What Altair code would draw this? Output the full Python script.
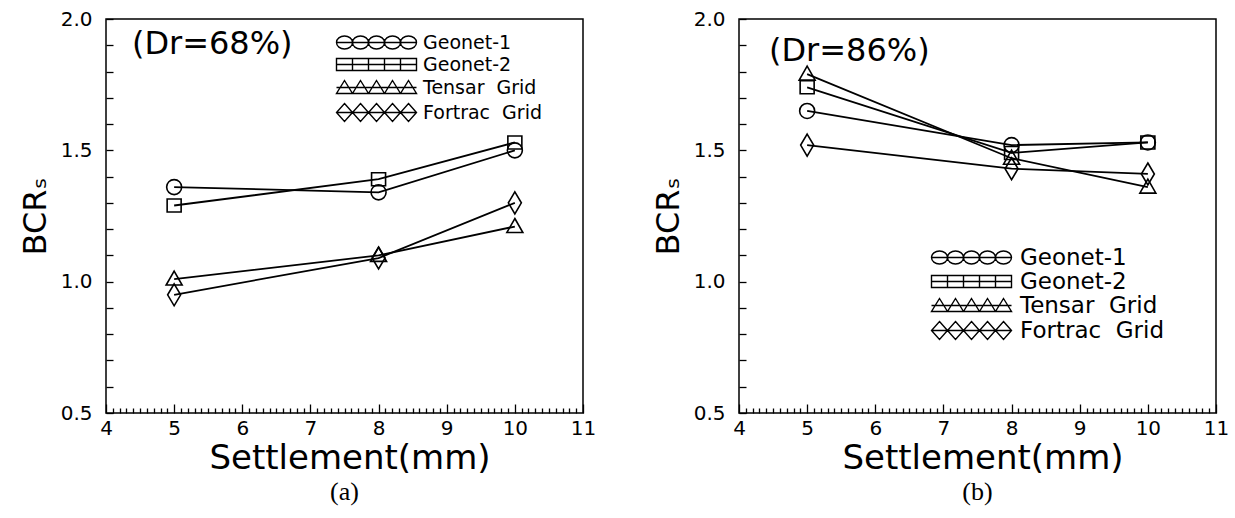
import altair as alt
import pandas as pd

# ---------------- data ----------------
settlement = [5, 8, 10]
series_names = ["Geonet-1", "Geonet-2", "Tensar\u00a0 Grid", "Fortrac\u00a0 Grid"]

# (a) Dr = 68%
geonet1_68 = [1.36, 1.34, 1.50]
geonet2_68 = [1.29, 1.39, 1.53]
tensar_68 = [1.01, 1.10, 1.21]
fortrac_68 = [0.95, 1.09, 1.30]

# (b) Dr = 86%
geonet1_86 = [1.65, 1.52, 1.53]
geonet2_86 = [1.74, 1.49, 1.53]
tensar_86 = [1.79, 1.47, 1.36]
fortrac_86 = [1.52, 1.43, 1.41]

x_labels = [4, 5, 6, 7, 8, 9, 10, 11]
y_labels = [0.5, 1.0, 1.5, 2.0]
x_minor = [round(4 + i * 0.1, 1) for i in range(71)]
y_minor = [round(0.5 + i * 0.1, 1) for i in range(16)]

annot_a = {"x": [4.38], "y": [1.905], "text": ["(Dr=68%)"]}
annot_b = {"x": [4.44], "y": [1.878], "text": ["(Dr=86%)"]}


def make_df(values):
    rows = []
    for name, vals in zip(series_names, values):
        for s, v in zip(settlement, vals):
            rows.append({"settlement": s, "bcr": v, "series": name})
    return pd.DataFrame(rows)


df_a = make_df([geonet1_68, geonet2_68, tensar_68, fortrac_68])
df_b = make_df([geonet1_86, geonet2_86, tensar_86, fortrac_86])

# ---------------- marker shapes (pixel units with size=4) ----------------
marker_paths = [
    "M-7.5,0A7.5,7.5 0 1,0 7.5,0A7.5,7.5 0 1,0 -7.5,0Z",
    "M-7,-6.5L7,-6.5L7,6.5L-7,6.5Z",
    "M0,-8L8,6L-8,6Z",
    "M0,-11L6.5,0L0,11L-6.5,0Z",
]


def chain(kind):
    parts = []
    for c in [-32, -16, 0, 16, 32]:
        if kind == "circle":
            parts.append(f"M{c-8},0A8,6.5 0 1,0 {c+8},0A8,6.5 0 1,0 {c-8},0Z")
        elif kind == "square":
            parts.append(f"M{c-8},-6L{c+8},-6L{c+8},6L{c-8},6Z")
        elif kind == "triangle":
            parts.append(f"M{c},-7L{c+8},6L{c-8},6Z")
        else:
            parts.append(f"M{c},-9L{c+8},0L{c},9L{c-8},0Z")
    parts.append("M-40,0L40,0")
    return "".join(parts)


chain_paths = [chain("circle"), chain("square"), chain("triangle"), chain("diamond")]

W, H = 477, 394
FONT = "DejaVu Sans"


def panel(df, annot, caption, lx, ly, lfont, lrow):
    xs = alt.Scale(domain=[4, 11], nice=False, zero=False)
    ys = alt.Scale(domain=[0.5, 2.0], nice=False, zero=False)
    base = alt.Chart(df)

    lines = base.mark_line(color="black", strokeWidth=1.8).encode(
        x=alt.X("settlement:Q", scale=xs,
                axis=alt.Axis(orient="bottom", values=x_labels, ticks=False, domain=False,
                              grid=False, labelFont=FONT, labelFontSize=20, labelColor="black",
                              labelPadding=5, labelFlush=False, labelOverlap=False,
                              title="Settlement(mm)", titleFont=FONT, titleFontSize=34,
                              titleFontWeight="normal", titleColor="black", titlePadding=3,
                              titleX=W / 2 + 5)),
        y=alt.Y("bcr:Q", scale=ys,
                axis=alt.Axis(orient="left", values=y_labels, format=".1f", ticks=False,
                              domain=False, grid=False, labelFont=FONT, labelFontSize=20,
                              labelColor="black", labelPadding=14, labelFlush=False,
                              labelOverlap=False, title="BCR\u209b", titleFont=FONT,
                              titleFontSize=32, titleFontWeight="normal", titleColor="black",
                              titlePadding=8)),
        detail="series:N",
    )

    points = base.mark_point(filled=False, color="black", strokeWidth=1.6, size=4, opacity=1).encode(
        x=alt.X("settlement:Q", scale=xs,
                axis=alt.Axis(orient="top", offset=-H, values=x_minor,
                              tickSize={"condition": {"test": "abs(datum.value - round(datum.value)) < 0.001",
                                                      "value": 9}, "value": 5},
                              tickColor="black", tickWidth=1.3, labels=False, domain=False,
                              grid=False, title=None)),
        y=alt.Y("bcr:Q", scale=ys,
                axis=alt.Axis(orient="right", offset=-W, values=y_minor, tickSize=7,
                              tickColor="black", tickWidth=1.3, labels=False, domain=False,
                              grid=False, title=None)),
        shape=alt.Shape("series:N", scale=alt.Scale(domain=series_names, range=marker_paths),
                        legend=None),
    )

    legend_layer = base.mark_point(filled=False, color="black", size=4, strokeWidth=1.4,
                                   opacity=1).encode(
        x=alt.X("settlement:Q", scale=xs, axis=None),
        y=alt.Y("bcr:Q", scale=ys, axis=None),
        shape=alt.Shape("series:N", scale=alt.Scale(domain=series_names, range=chain_paths),
                        legend=alt.Legend(title=None, orient="none", legendX=lx, legendY=ly,
                                          symbolSize=4, symbolStrokeWidth=1.4,
                                          symbolStrokeColor="black", symbolOpacity=1,
                                          symbolFillColor="transparent",
                                          labelFont=FONT, labelFontSize=lfont,
                                          labelColor="black", labelOffset=37,
                                          rowPadding=lrow, padding=0)),
    ).transform_filter("false")

    text = alt.Chart(pd.DataFrame(annot)).mark_text(
        align="left", baseline="middle", font=FONT, fontSize=32, color="black"
    ).encode(
        x=alt.X("x:Q", scale=xs, axis=None),
        y=alt.Y("y:Q", scale=ys, axis=None),
        text="text:N",
    )

    return alt.layer(lines, points, legend_layer, text).resolve_axis(
        x="independent", y="independent"
    ).resolve_scale(shape="independent").properties(
        width=W, height=H,
        title=alt.TitleParams(caption, orient="bottom", font="Liberation Serif", fontSize=26,
                              fontWeight="normal", color="black", offset=4),
    )


pa = panel(df_a, annot_a, "(a)", 261, 14, 19, 2)
pb = panel(df_b, annot_b, "(b)", 221, 227, 23, 0)

chart = alt.hconcat(pa, pb, spacing=54).configure_view(
    stroke="black", strokeWidth=1.5
).properties(
    padding={"left": 18, "top": 8, "right": 0, "bottom": 0},
    background="white",
)

chart.save("out.html", embed_options={"renderer": "svg", "actions": False})
